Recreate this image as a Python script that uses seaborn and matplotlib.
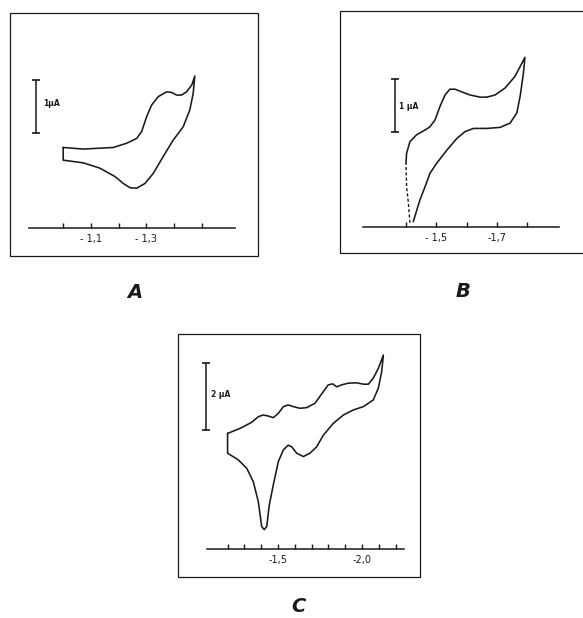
import numpy as np
import pandas as pd
import matplotlib
matplotlib.use("Agg")
import matplotlib.pyplot as plt
from matplotlib.patches import Rectangle
import seaborn as sns

# ---------------- data (potential in V, current in µA) ----------------
A_E_fwd = [-1.000, -1.072, -1.181, -1.229, -1.265, -1.283, -1.301, -1.319, -1.343,
           -1.373, -1.391, -1.409, -1.427, -1.445, -1.464, -1.475]
A_I_fwd = [1.52, 1.49, 1.52, 1.60, 1.69, 1.82, 2.10, 2.32, 2.48,
           2.57, 2.56, 2.51, 2.51, 2.57, 2.70, 2.87]
A_E_rev = [-1.469, -1.457, -1.433, -1.397, -1.361, -1.325, -1.295, -1.265, -1.241,
           -1.217, -1.187, -1.132, -1.072, -1.000]
A_I_rev = [2.54, 2.23, 1.91, 1.66, 1.35, 1.03, 0.84, 0.75, 0.76,
           0.84, 0.97, 1.13, 1.23, 1.28]

B_E_dash = [-1.413, -1.408, -1.402, -1.400]
B_I_dash = [0.08, 0.45, 0.76, 1.20]
B_E_fwd = [-1.400, -1.402, -1.413, -1.435, -1.463, -1.479, -1.496, -1.512, -1.529,
           -1.545, -1.562, -1.584, -1.612, -1.645, -1.667, -1.694, -1.727, -1.760, -1.793]
B_I_fwd = [1.20, 1.39, 1.61, 1.74, 1.83, 1.89, 2.02, 2.27, 2.49,
           2.60, 2.60, 2.55, 2.49, 2.45, 2.45, 2.49, 2.62, 2.84, 3.20]
B_E_rev = [-1.788, -1.777, -1.766, -1.744, -1.711, -1.667, -1.623, -1.595, -1.568,
           -1.535, -1.501, -1.479, -1.463, -1.446, -1.424]
B_I_rev = [2.90, 2.46, 2.15, 1.96, 1.88, 1.86, 1.86, 1.80, 1.67,
           1.45, 1.20, 1.01, 0.76, 0.51, 0.10]

C_E_fwd = [-1.200, -1.274, -1.343, -1.383, -1.412, -1.442, -1.472, -1.502, -1.532,
           -1.561, -1.591, -1.631, -1.671, -1.720, -1.770, -1.799, -1.826, -1.849,
           -1.879, -1.918, -1.968, -2.008, -2.038, -2.067, -2.097, -2.127]
C_I_fwd = [3.45, 3.60, 3.78, 3.95, 4.00, 3.97, 3.92, 4.05, 4.25,
           4.30, 4.25, 4.20, 4.22, 4.35, 4.70, 4.90, 4.93, 4.84,
           4.90, 4.95, 4.96, 4.92, 4.92, 5.10, 5.39, 5.79]
C_E_rev = [-2.117, -2.097, -2.067, -2.008, -1.948, -1.889, -1.829, -1.770, -1.730,
           -1.690, -1.651, -1.611, -1.582, -1.561, -1.532, -1.502, -1.472, -1.448,
           -1.433, -1.418, -1.403, -1.383, -1.353, -1.314, -1.264, -1.200]
C_I_rev = [5.29, 4.80, 4.45, 4.25, 4.15, 4.00, 3.75, 3.40, 3.05,
           2.86, 2.76, 2.86, 3.05, 3.10, 2.96, 2.61, 1.91, 1.31,
           0.67, 0.58, 0.67, 1.41, 2.01, 2.41, 2.66, 2.86]

A_ticks = [-1.0, -1.1, -1.2, -1.3, -1.4, -1.5]
A_ticklabels = ["", "- 1,1", "", "- 1,3", "", ""]
B_ticks = [-1.4, -1.5, -1.6, -1.7, -1.8]
B_ticklabels = ["", "- 1,5", "", "-1,7", ""]
C_ticks = [-1.2, -1.3, -1.4, -1.5, -1.6, -1.7, -1.8, -1.9, -2.0, -2.1, -2.2]
C_ticklabels = ["", "", "", "-1,5", "", "", "", "", "-2,0", "", ""]

A_bar_uA, B_bar_uA, C_bar_uA = 1, 1, 2
A_bar_label, B_bar_label, C_bar_label = "1µA", "1 µA", "2 µA"
panel_letters = ["A", "B", "C"]

# ---------------- figure ----------------
sns.set_theme(style="white")
plt.rcParams["font.family"] = ["DejaVu Sans"]

W, H = 583, 618
fig = plt.figure(figsize=(W / 100, H / 100), dpi=100)
fig.patch.set_facecolor("white")


def panel(frame_px, xlim, ylim, curves, dashed, ticks, ticklabels, bounds,
          bar_x, bar_lo, bar_len, bar_label, label_x, label_y):
    x0, y0, x1, y1 = frame_px
    ax = fig.add_axes([x0 / W, 1 - y1 / H, (x1 - x0) / W, (y1 - y0) / H])
    ax.set_xlim(*xlim)
    ax.set_ylim(*ylim)
    ax.patch.set_visible(False)
    for s in ["left", "right", "top"]:
        ax.spines[s].set_visible(False)
    sp = ax.spines["bottom"]
    sp.set_position(("data", 0))
    sp.set_bounds(*bounds)
    sp.set_linewidth(1.1)
    sp.set_color("k")
    ax.set_xticks(ticks)
    ax.set_xticklabels(ticklabels)
    ax.tick_params(axis="x", bottom=True, direction="in", length=3.5, width=1.0,
                   pad=4.5, labelsize=7, colors="k")
    ax.set_yticks([])
    # outer frame
    ax.add_patch(Rectangle((0, 0), 1, 1, transform=ax.transAxes, fill=False,
                           ec="k", lw=0.9, clip_on=False))
    for E, I in curves:
        df = pd.DataFrame({"E": E, "I": I})
        sns.lineplot(data=df, x="E", y="I", sort=False, estimator=None, ax=ax,
                     color="k", lw=1.15)
    if dashed is not None:
        df = pd.DataFrame({"E": dashed[0], "I": dashed[1]})
        sns.lineplot(data=df, x="E", y="I", sort=False, estimator=None, ax=ax,
                     color="k", lw=1.0, linestyle=(0, (2.2, 1.6)))
    ax.set_xlabel("")
    ax.set_ylabel("")
    # current scale bar
    tr = ax.get_yaxis_transform()
    ax.plot([bar_x, bar_x], [bar_lo, bar_lo + bar_len], color="k", lw=1.1,
            marker="_", ms=6, mew=1.2, transform=tr, clip_on=False)
    ax.text(label_x, label_y, bar_label, transform=tr, fontsize=5.5,
            fontweight="bold", ha="left", va="center", color="k")
    return ax


# Panel A
panel((10, 13, 258, 256), (-0.808, -1.703), (-0.53, 4.06),
      [(A_E_fwd + A_E_rev + [A_E_fwd[0]], A_I_fwd + A_I_rev + [A_I_fwd[0]])], None,
      A_ticks, A_ticklabels, (-1.620, -0.876),
      0.104, 1.79, A_bar_uA, A_bar_label, 0.134, 2.35)

# Panel B
panel((340, 11, 590, 253), (-1.182, -2.008), (-0.49, 4.075),
      [(B_E_fwd + B_E_rev, B_I_fwd + B_I_rev)], (B_E_dash, B_I_dash),
      B_ticks, B_ticklabels, (-1.906, -1.258),
      0.22, 1.80, B_bar_uA, B_bar_label, 0.237, 2.27)

# Panel C
panel((178, 334, 420, 577), (-0.905, -2.345), (-0.836, 6.418),
      [(C_E_fwd + C_E_rev + [C_E_fwd[0]], C_I_fwd + C_I_rev + [C_I_fwd[0]])], None,
      C_ticks, C_ticklabels, (-2.25, -1.077),
      0.116, 3.55, C_bar_uA, C_bar_label, 0.135, 4.6)

for letter, (lx, ly) in zip(panel_letters, [(135, 293), (463, 292), (298, 606)]):
    fig.text(lx / W, 1 - ly / H, letter, ha="center", va="center", fontsize=14,
             fontweight="heavy", fontstyle="italic", color="k")

fig.savefig("out.png", dpi=100, facecolor="white")
